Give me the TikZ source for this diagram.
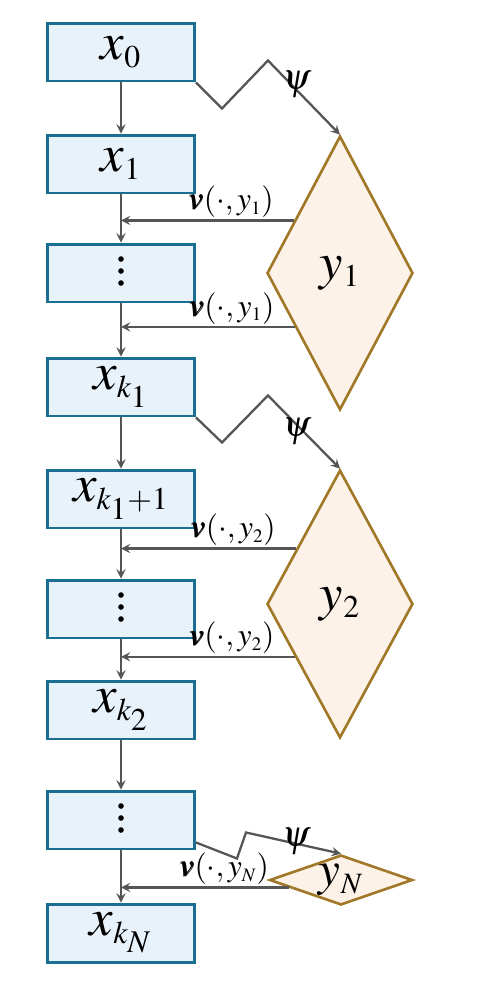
\documentclass[tikz,border=0pt]{standalone}
\usepackage{amsmath}
\usepackage{mathptmx}
\usepackage{tikz}
\usetikzlibrary{shapes.geometric,calc}
\definecolor{boxfill}{RGB}{232,242,251}
\definecolor{boxline}{RGB}{26,110,145}
\definecolor{dfill}{RGB}{253,242,232}
\definecolor{dline}{RGB}{160,120,40}
\definecolor{arrowgray}{RGB}{85,85,85}

\begin{document}
\begin{tikzpicture}[x=0.02cm, y=-0.02cm, >=stealth,
    blk/.style={draw=boxline, fill=boxfill, line width=1.7pt, minimum width=2.94cm, minimum height=1.16cm, inner sep=1pt, font=\fontsize{30}{32}\selectfont},
    dia/.style={diamond, draw=dline, fill=dfill, line width=1.5pt, inner sep=0pt, aspect=3, font=\fontsize{30}{32}\selectfont},
    conn/.style={draw=arrowgray, line width=1.3pt},
    vlbl/.style={anchor=south east, inner sep=1pt, font=\fontsize{18}{20}\selectfont},
    psilbl/.style={inner sep=0pt, font=\fontsize{21}{23}\selectfont}]
        \useasboundingbox (0,0) rectangle (479,994);
        \node[blk] (x0) at (121,52) {$x_{\scriptscriptstyle 0}$};
        \node[blk] (x1) at (121,164) {$x_{\scriptscriptstyle 1}$};
        \node[blk] (v1) at (121,273) {};
        \node[blk] (xk1) at (121,387) {$x_{\scriptscriptstyle k_1}$};
        \node[blk] (xk1p) at (121,499) {$x_{\scriptscriptstyle k_1+1}$};
        \node[blk] (v2) at (121,609) {};
        \node[blk] (xk2) at (121,710) {$x_{\scriptscriptstyle k_2}$};
        \node[blk] (v3) at (121,820) {};
        \node[blk] (xkN) at (121,933) {$x_{\scriptscriptstyle k_N}$};
        \fill ($(v1)+(0,-14)$) circle (1.6pt);
        \fill ($(v1)+(0,-2)$) circle (1.6pt);
        \fill ($(v1)+(0,10)$) circle (1.6pt);
        \fill ($(v2)+(0,-14)$) circle (1.6pt);
        \fill ($(v2)+(0,-2)$) circle (1.6pt);
        \fill ($(v2)+(0,10)$) circle (1.6pt);
        \fill ($(v3)+(0,-14)$) circle (1.6pt);
        \fill ($(v3)+(0,-2)$) circle (1.6pt);
        \fill ($(v3)+(0,10)$) circle (1.6pt);
        \node[dia, minimum width=2.92cm, minimum height=5.48cm] (y1) at (340,273) {$y_{\scriptscriptstyle 1}$};
        \node[dia, minimum width=2.92cm, minimum height=5.36cm] (y2) at (340,604) {$y_{\scriptscriptstyle 2}$};
        \node[dia, minimum width=2.86cm, minimum height=1cm, font=\fontsize{28}{30}\selectfont] (yN) at (341,880) {$y_{\scriptscriptstyle N}$};
        \draw[conn,->] (x0) -- (x1);
        \draw[conn,->] (x1) -- (v1);
        \draw[conn,->] (v1) -- (xk1);
        \draw[conn,->] (xk1) -- (xk1p);
        \draw[conn,->] (xk1p) -- (v2);
        \draw[conn,->] (v2) -- (xk2);
        \draw[conn,->] (xk2) -- (v3);
        \draw[conn,->] (v3) -- (xkN);
        \draw[conn,->] (x0.south east) -- ++(26,26) -- ++(46,-48) -- node[psilbl,pos=0.4,yshift=3pt]{$\psi$} (y1.north);
        \draw[conn,->] (xk1.south east) -- ++(26,25) -- ++(46,-47) -- node[psilbl,pos=0.4,yshift=-4pt]{$\psi$} (y2.north);
        \draw[conn,->] ($(v3.south east)+(0,-8)$) -- ++(41,16) -- ++(9,-26) -- node[psilbl,pos=0.53,yshift=1pt]{$\psi$} (yN.north);
        \coordinate (f1) at ($(y1.west)!0.38!(y1.north)$);
        \coordinate (f2) at ($(y1.west)!0.39!(y1.south)$);
        \coordinate (f3) at ($(y2.west)!0.41!(y2.north)$);
        \coordinate (f4) at ($(y2.west)!0.39!(y2.south)$);
        \coordinate (f5) at ($(yN.west)!0.28!(yN.south)$);
        \draw[conn,->] (f1) -- node[vlbl,pos=0.1]{$\pmb{v}(\cdot,y_{\scriptscriptstyle 1})$} (f1 -| x1.south);
        \draw[conn,->] (f2) -- node[vlbl,pos=0.1]{$\pmb{v}(\cdot,y_{\scriptscriptstyle 1})$} (f2 -| v1.south);
        \draw[conn,->] (f3) -- node[vlbl,pos=0.1]{$\pmb{v}(\cdot,y_{\scriptscriptstyle 2})$} (f3 -| xk1p.south);
        \draw[conn,->] (f4) -- node[vlbl,pos=0.1]{$\pmb{v}(\cdot,y_{\scriptscriptstyle 2})$} (f4 -| v2.south);
        \draw[conn,->] (f5) -- node[vlbl,pos=0.1]{$\pmb{v}(\cdot,y_{\scriptscriptstyle N})$} (f5 -| v3.south);
    \end{tikzpicture}
\end{document}
